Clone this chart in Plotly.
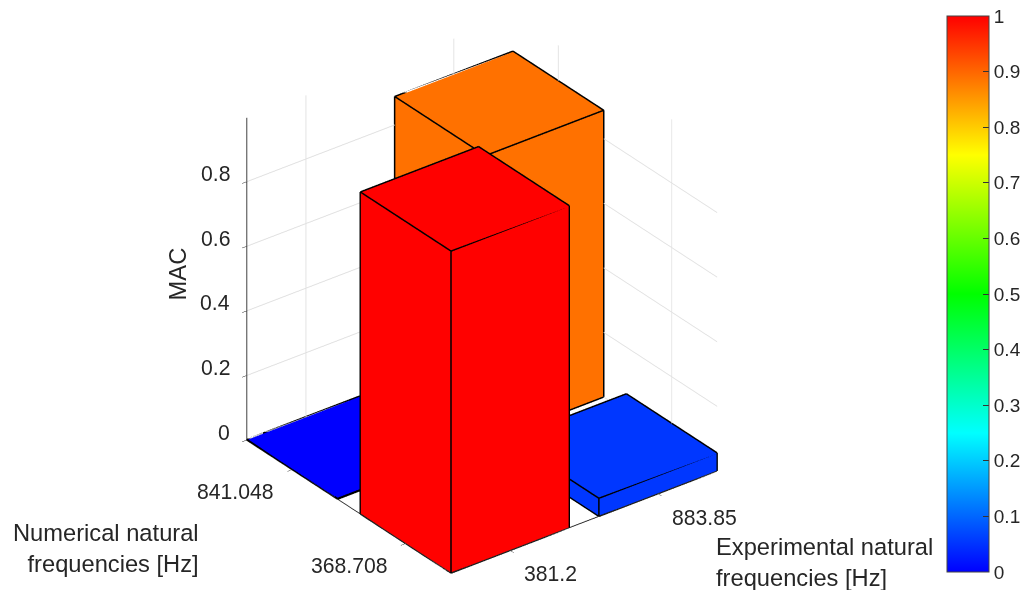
import math
import plotly.graph_objects as go

# ---- data ----
exp_labels = ["381.2", "883.85"]
num_labels = ["368.708", "841.048"]
exp_pos = [1, 2]
num_pos = [1, 2]
mac_row_368 = [0.997, 0.056]
mac_row_841 = [0.002, 0.888]
z_ticks = [0, 0.2, 0.4, 0.6, 0.8]
cbar_ticks = [0, 0.1, 0.2, 0.3, 0.4, 0.5, 0.6, 0.7, 0.8, 0.9, 1]
color_stops = [[0, "rgb(0,0,255)"], [0.25, "rgb(0,255,255)"], [0.5, "rgb(0,255,0)"],
               [0.75, "rgb(255,255,0)"], [1, "rgb(255,0,0)"]]
x_title = "Experimental natural<br>frequencies [Hz]"
y_title = "Numerical natural<br>frequencies [Hz]"
z_title = "MAC"

HALF = 0.4
ZMAX = 0.997
INSET = 0.0025     # faces sit just inside their outline so the edges stay solid
TXT = "#262626"
FONT = "Liberation Sans"

az = math.radians(37.5)
el = math.radians(30)
DIST = 1.75
eye = dict(x=-DIST * math.sin(az) * math.cos(el),
           y=-DIST * math.cos(az) * math.cos(el),
           z=DIST * math.sin(el))

fig = go.Figure()

EDGES = [(0, 1), (1, 2), (2, 3), (3, 0), (4, 5), (5, 6), (6, 7), (7, 4), (0, 4), (1, 5), (2, 6), (3, 7)]
FACES = [(0, 1, 2), (0, 2, 3), (4, 5, 6), (4, 6, 7), (0, 1, 5), (0, 5, 4),
         (1, 2, 6), (1, 6, 5), (2, 3, 7), (2, 7, 6), (3, 0, 4), (3, 4, 7)]

ex, ey, ez = [], [], []
first = True
for yc, row in zip(num_pos, [mac_row_368, mac_row_841]):
    for xc, val in zip(exp_pos, row):
        h = HALF - INSET
        top = max(val - 0.0015, val * 0.5)
        fig.add_trace(go.Mesh3d(
            x=[xc - h, xc + h, xc + h, xc - h] * 2,
            y=[yc - h, yc - h, yc + h, yc + h] * 2,
            z=[0] * 4 + [top] * 4,
            i=[f[0] for f in FACES], j=[f[1] for f in FACES], k=[f[2] for f in FACES],
            intensity=[val] * len(FACES), intensitymode="cell",
            colorscale=color_stops, cmin=0, cmax=1,
            flatshading=True,
            lighting=dict(ambient=1, diffuse=0, specular=0, fresnel=0, roughness=1),
            hoverinfo="skip",
            showscale=first,
            colorbar=dict(
                x=947 / 1025, xanchor="left", xpad=0,
                y=1 - 16 / 590, yanchor="top", ypad=0,
                lenmode="pixels", len=556,
                thicknessmode="pixels", thickness=42,
                outlinecolor="#444444", outlinewidth=1,
                tickmode="array", tickvals=cbar_ticks,
                ticktext=[f"{t:g}" for t in cbar_ticks],
                ticks="inside", ticklen=6, tickcolor="#333333",
                tickfont=dict(family=FONT, size=19, color=TXT),
            ),
        ))
        first = False
        vx = [xc - HALF, xc + HALF, xc + HALF, xc - HALF] * 2
        vy = [yc - HALF, yc - HALF, yc + HALF, yc + HALF] * 2
        vz = [0] * 4 + [val] * 4
        for a, b in EDGES:
            ex += [vx[a], vx[b], None]
            ey += [vy[a], vy[b], None]
            ez += [vz[a], vz[b], None]

fig.add_trace(go.Scatter3d(x=ex, y=ey, z=ez, mode="lines",
                           line=dict(color="black", width=3),
                           hoverinfo="skip", showlegend=False))

annots = []
lab = dict(showarrow=False, font=dict(family=FONT, size=21.2, color=TXT))
ttl = dict(showarrow=False, font=dict(family=FONT, size=23.7, color=TXT))
for xv, t in zip(exp_pos, exp_labels):
    annots.append(dict(x=xv, y=0.6, z=0, text=t, xanchor="left", xshift=12, yshift=-23.5, **lab))
for yv, t in zip(num_pos, num_labels):
    annots.append(dict(x=0.6, y=yv, z=0, text=t, xshift=-56.5, yshift=-22, **lab))
for zv in z_ticks:
    annots.append(dict(x=0.6, y=2.4, z=zv, text=f"{zv:g}", xanchor="right", xshift=-15, yshift=8, **lab))
annots.append(dict(x=1.5, y=0.6, z=0, text=x_title, xanchor="left", align="left", xshift=130, yshift=-40, **ttl))
annots.append(dict(x=0.6, y=1.5, z=0, text=y_title, xanchor="right", align="right", xshift=-147.5, yshift=-42, **ttl))
annots.append(dict(x=0.6, y=2.4, z=0.5, text=z_title, textangle=-90, xshift=-69, yshift=5, **ttl))

axis_common = dict(showticklabels=False, title=dict(text=""), showbackground=False, showspikes=False,
                   gridcolor="#e0e0e0", gridwidth=2, zeroline=False,
                   showline=True, linecolor="#262626", linewidth=2,
                   ticks="outside", ticklen=6, tickcolor="#262626", tickwidth=1)

fig.update_layout(
    width=1025, height=590,
    margin=dict(l=0, r=0, t=0, b=0, autoexpand=False),
    paper_bgcolor="white",
    showlegend=False,
    scene=dict(
        domain=dict(x=[0, 964 / 1025], y=[1 / 590, 1]),
        aspectmode="manual",
        aspectratio=dict(x=1.139, y=1.139, z=1.2625),
        camera=dict(eye=eye, up=dict(x=0, y=0, z=1), center=dict(x=0, y=0, z=0),
                    projection=dict(type="orthographic")),
        bgcolor="white",
        xaxis=dict(range=[0.6, 2.4], tickvals=exp_pos, ticktext=exp_labels, **axis_common),
        yaxis=dict(range=[0.6, 2.4], tickvals=num_pos, ticktext=num_labels, **axis_common),
        zaxis=dict(range=[0, ZMAX], tickvals=z_ticks, **axis_common),
        annotations=annots,
    ),
)

fig.write_html("out.html", config=dict(displayModeBar=False),
               post_script="document.body.style.margin='0';document.documentElement.style.overflow='hidden';")
